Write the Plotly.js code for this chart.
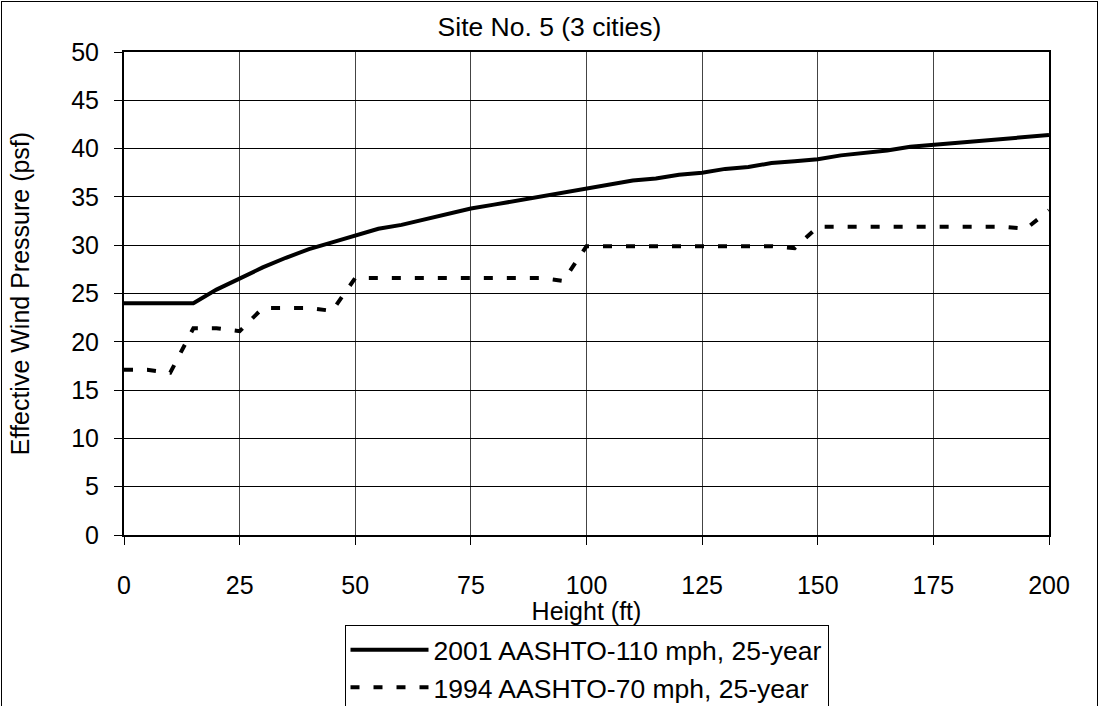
<!DOCTYPE html>
<html>
<head>
<meta charset="utf-8">
<script src="https://cdn.plot.ly/plotly-3.0.1.min.js"></script>
<style>
  html, body { margin: 0; padding: 0; background: #fff; overflow: hidden; }
  #chart { position: absolute; left: 0; top: 0; width: 1099px; height: 706px; }
  #frame { position: absolute; left: 1px; top: 1px; width: 1095px; height: 760px;
           border: 1px solid #000; pointer-events: none; }
</style>
</head>
<body>
<div id="chart"></div>
<div id="frame"></div>
<script>
// Height (ft)
const heights = [0,5,10,15,20,25,30,35,40,45,50,55,60,65,70,75,80,85,90,95,100,
                 105,110,115,120,125,130,135,140,145,150,155,160,165,170,175,180,185,190,195,200];
// 2001 AASHTO-110 mph, 25-year (psf)
const p2001 = [24,24,24,24,25.4,26.6,27.7,28.7,29.6,30.3,31.0,31.7,32.1,32.7,33.3,33.8,34.2,34.6,35.1,35.5,35.8,
               36.3,36.7,36.9,37.3,37.5,37.9,38.1,38.5,38.7,38.9,39.3,39.5,39.8,40.2,40.4,40.6,40.8,41.0,41.2,41.4];
// 1994 AASHTO-70 mph, 25-year (psf)
const p1994 = [17.1,17.1,16.8,21.4,21.4,21.1,23.5,23.5,23.5,23.2,26.6,26.6,26.6,26.6,26.6,26.6,26.6,26.6,26.6,26.3,29.9,
               29.9,29.9,29.9,29.9,29.9,29.9,29.9,29.9,29.7,31.9,31.9,31.9,31.9,31.9,31.9,31.9,31.9,31.9,31.7,33.6];
const seriesNames = ['2001 AASHTO-110 mph, 25-year', '1994 AASHTO-70 mph, 25-year'];
const xTicks = [0,25,50,75,100,125,150,175,200];
const yTicks = [0,5,10,15,20,25,30,35,40,45,50];

const FONT = 'Liberation Sans, Arial, sans-serif';

const traces = [
  { x: heights, y: p2001, name: seriesNames[0], type: 'scatter', mode: 'lines',
    line: { color: '#000', width: 4 } },
  { x: heights, y: p1994, name: seriesNames[1], type: 'scatter', mode: 'lines',
    line: { color: '#000', width: 4, dash: '9px,14px' } }
];

const layout = {
  width: 1099, height: 706,
  margin: { l: 123.5, r: 50, t: 52, b: 171, pad: 0 },
  paper_bgcolor: '#fff', plot_bgcolor: '#fff',
  font: { family: FONT, size: 25, color: '#000' },
  title: { text: 'Site No. 5 (3 cities)', font: { family: FONT, size: 26.5, color: '#000' },
           xref: 'container', x: 0.5, xanchor: 'center', yref: 'container', y: 0.962, yanchor: 'middle' },
  xaxis: {
    range: [0, 200], tickvals: xTicks, ticktext: xTicks.map(String),
    showgrid: true, gridcolor: '#444', gridwidth: 1,
    showline: true, linecolor: '#000', linewidth: 2, mirror: true,
    ticks: 'outside', ticklen: 8, tickcolor: '#000', tickwidth: 1,
    ticklabelstandoff: 19,
    zeroline: false, tickfont: { family: FONT, size: 25, color: '#000' },
    title: { text: 'Height (ft)', font: { family: FONT, size: 25, color: '#000' }, standoff: 4 }
  },
  yaxis: {
    range: [0, 50], tickvals: yTicks, ticktext: yTicks.map(String),
    showgrid: true, gridcolor: '#000', gridwidth: 1,
    showline: true, linecolor: '#000', linewidth: 2, mirror: true,
    ticks: 'outside', ticklen: 8, tickcolor: '#000', tickwidth: 1,
    ticklabelstandoff: 10,
    zeroline: false, tickfont: { family: FONT, size: 25, color: '#000' },
    title: { text: 'Effective Wind Pressure (psf)', font: { family: FONT, size: 25, color: '#000' }, standoff: 34 }
  },
  showlegend: true,
  legend: {
    x: 0.5, xanchor: 'center', xref: 'paper', y: 0.1147, yanchor: 'top', yref: 'container',
    bgcolor: '#fff', bordercolor: '#000', borderwidth: 1,
    font: { family: FONT, size: 26.5, color: '#000' },
    itemwidth: 78
  }
};

Plotly.newPlot('chart', traces, layout, { staticPlot: true, displayModeBar: false });
</script>
</body>
</html>
